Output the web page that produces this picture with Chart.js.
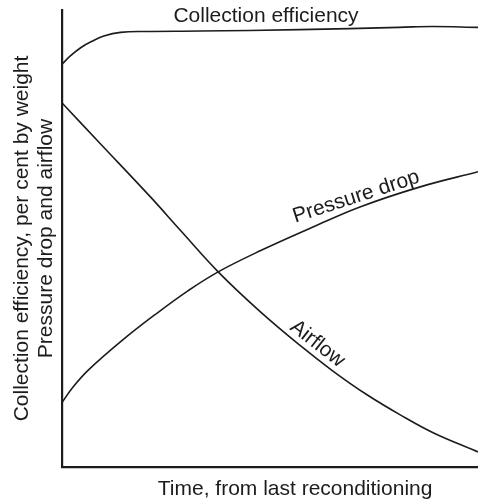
<!DOCTYPE html>
<html>
<head>
<meta charset="utf-8">
<script src="https://cdn.jsdelivr.net/npm/chart.js@4"></script>
<style>
  html, body { margin:0; padding:0; background:#fff; }
  #wrap { width:478px; height:501px; position:relative; }
</style>
</head>
<body>
<div id="wrap"><canvas id="chart"></canvas></div>
<script>
// Time axis (0 = last reconditioning) and relative values
const effTime = [0, 2, 4.5, 7, 10, 14, 20, 33, 57, 81, 89, 100];
const effValue = [88.2, 90.0, 91.8, 93.1, 94.3, 95.1, 95.3, 95.4, 95.7, 96.2, 96.4, 96.2];

const pdTime = [0, 2.4, 6.25, 14.4, 22.4, 30.3, 37.5, 47.6, 60.3, 71.6, 86.1, 100];
const pdValue = [14.2, 17.3, 21.2, 27.7, 33.4, 38.6, 42.7, 47.3, 52.5, 56.9, 61.3, 64.6];

const afTime = [0, 9.1, 21.2, 28.4, 37.5, 47.6, 57.2, 65.1, 73.3, 81.3, 89.2, 100];
const afValue = [79.6, 70.8, 59.1, 51.8, 42.7, 34.0, 26.6, 21.0, 15.8, 11.4, 7.5, 3.3];

const yTitle = ['Collection efficiency, per cent by weight', 'Pressure drop and airflow'];
const xTitle = 'Time, from last reconditioning';

const INK = '#1c1c1c';
const FONT = '"Liberation Sans", Arial, Helvetica, sans-serif';

function pts(xs, ys){ return xs.map((x,i)=>({x, y: ys[i]})); }
function interp(xs, ys, x){
  for (let i=1;i<xs.length;i++){
    if (x <= xs[i]){
      const t = (x - xs[i-1]) / (xs[i] - xs[i-1]);
      return ys[i-1] + t*(ys[i]-ys[i-1]);
    }
  }
  return ys[ys.length-1];
}

// curve labels + free text
const labels = {
  id: 'labels',
  afterDraw(chart){
    const {ctx, chartArea, scales:{x, y}} = chart;
    ctx.save();
    ctx.fillStyle = INK;
    ctx.font = '21px ' + FONT;

    // title over the efficiency curve
    ctx.textAlign = 'center';
    ctx.textBaseline = 'alphabetic';
    ctx.fillText('Collection efficiency', x.getPixelForValue(49), chartArea.top + 12);

    // x axis title
    ctx.fillText(xTitle, x.getPixelForValue(56), chartArea.bottom + 28);

    // text along curves
    const along = (txt, xs, ys, at, deg, off) => {
      ctx.save();
      ctx.translate(x.getPixelForValue(at), y.getPixelForValue(interp(xs, ys, at)));
      ctx.rotate(deg * Math.PI / 180);
      ctx.textAlign = 'center';
      ctx.fillText(txt, 0, -off);
      ctx.restore();
    };
    along('Pressure drop', pdTime, pdValue, 71.5, -18, 5);
    along('Airflow', afTime, afValue, 59.6, 38, 6);
    ctx.restore();
  }
};

const lineDs = (label, xs, ys) => ({
  label, data: pts(xs, ys),
  borderColor: INK, borderWidth: 1.6,
  pointRadius: 0, fill: false,
  tension: 0.4
});

new Chart(document.getElementById('chart'), {
  type: 'line',
  data: {
    datasets: [
      lineDs('Collection efficiency', effTime, effValue),
      lineDs('Pressure drop', pdTime, pdValue),
      lineDs('Airflow', afTime, afValue)
    ]
  },
  options: {
    responsive: true,
    maintainAspectRatio: false,
    animation: false,
    layout: { padding: { top: 10, right: 0, bottom: 34, left: 0 } },
    plugins: { legend: { display: false }, tooltip: { enabled: false } },
    scales: {
      x: {
        type: 'linear', min: 0, max: 100,
        grid: { display: false, drawTicks: false },
        ticks: { display: false },
        border: { display: true, color: INK, width: 2.2 }
      },
      y: {
        type: 'linear', min: 0, max: 100,
        grid: { display: false, drawTicks: false },
        ticks: { display: false },
        border: { display: true, color: INK, width: 2.2 },
        title: {
          display: true, text: yTitle, color: INK,
          font: { family: FONT, size: 21, lineHeight: 1.15 },
          padding: { top: 10, bottom: 4 }
        }
      }
    }
  },
  plugins: [labels]
});
</script>
</body>
</html>
